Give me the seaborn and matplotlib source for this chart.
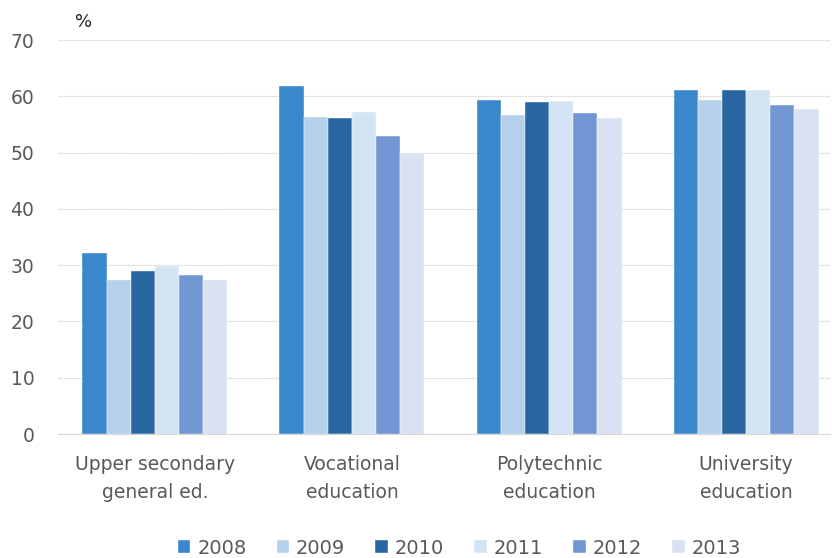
import matplotlib
matplotlib.use('Agg')
import matplotlib.pyplot as plt
import seaborn as sns
import pandas as pd

categories = ['Upper secondary\ngeneral ed.', 'Vocational\neducation', 'Polytechnic\neducation', 'University\neducation']
years = ['2008', '2009', '2010', '2011', '2012', '2013']
values = {
    '2008': [32.1, 61.8, 59.4, 61.2],
    '2009': [27.3, 56.4, 56.6, 59.4],
    '2010': [29.0, 56.1, 58.9, 61.2],
    '2011': [29.9, 57.2, 59.1, 61.2],
    '2012': [28.2, 52.9, 57.0, 58.4],
    '2013': [27.3, 49.9, 56.1, 57.8],
}
colors = ['#3A87CC', '#B4D0EA', '#2965A0', '#D3E4F4', '#7296D4', '#D9E1F2']

rows = []
for y in years:
    for c, v in zip(categories, values[y]):
        rows.append({'category': c, 'year': y, 'value': v})
df = pd.DataFrame(rows)

sns.set_style('white')
plt.rcParams['font.family'] = ['DejaVu Sans']

fig = plt.figure(figsize=(8.32, 5.58), dpi=100)
ax = fig.add_axes([58 / 832, 1 - 434 / 558, 772 / 832, 394 / 558])

sns.barplot(data=df, x='category', y='value', hue='year', palette=colors,
            saturation=1, width=0.736, ax=ax, edgecolor='white', linewidth=0.3)

ax.set_ylim(0, 70)
ax.set_yticks(range(0, 71, 10))
ax.set_xlim(-0.492, 3.426)
ax.yaxis.grid(True, linestyle=(0, (1.5, 1)), color='#D2D2D2', linewidth=0.8)
ax.set_axisbelow(True)
for s in ['top', 'right', 'left']:
    ax.spines[s].set_visible(False)
ax.spines['bottom'].set_color('#D6D6D6')
ax.tick_params(axis='y', length=0, labelsize=13.5, colors='#595959', pad=17)
ax.tick_params(axis='x', length=0, labelsize=13.5, colors='#595959', pad=15)
for lbl in ax.get_xticklabels():
    lbl.set_linespacing(1.6)
ax.set_xlabel('')
ax.set_ylabel('')
fig.text(75 / 832, 1 - 22 / 558, '%', fontsize=13, color='#222222', va='center')

leg = ax.legend(loc='center', bbox_to_anchor=(0.52, -0.29), ncol=6, frameon=False,
                fontsize=14, handlelength=0.65, handleheight=0.65, handletextpad=0.35,
                columnspacing=1.55)
for t in leg.get_texts():
    t.set_color('#595959')

fig.savefig('out.png', dpi=100)
